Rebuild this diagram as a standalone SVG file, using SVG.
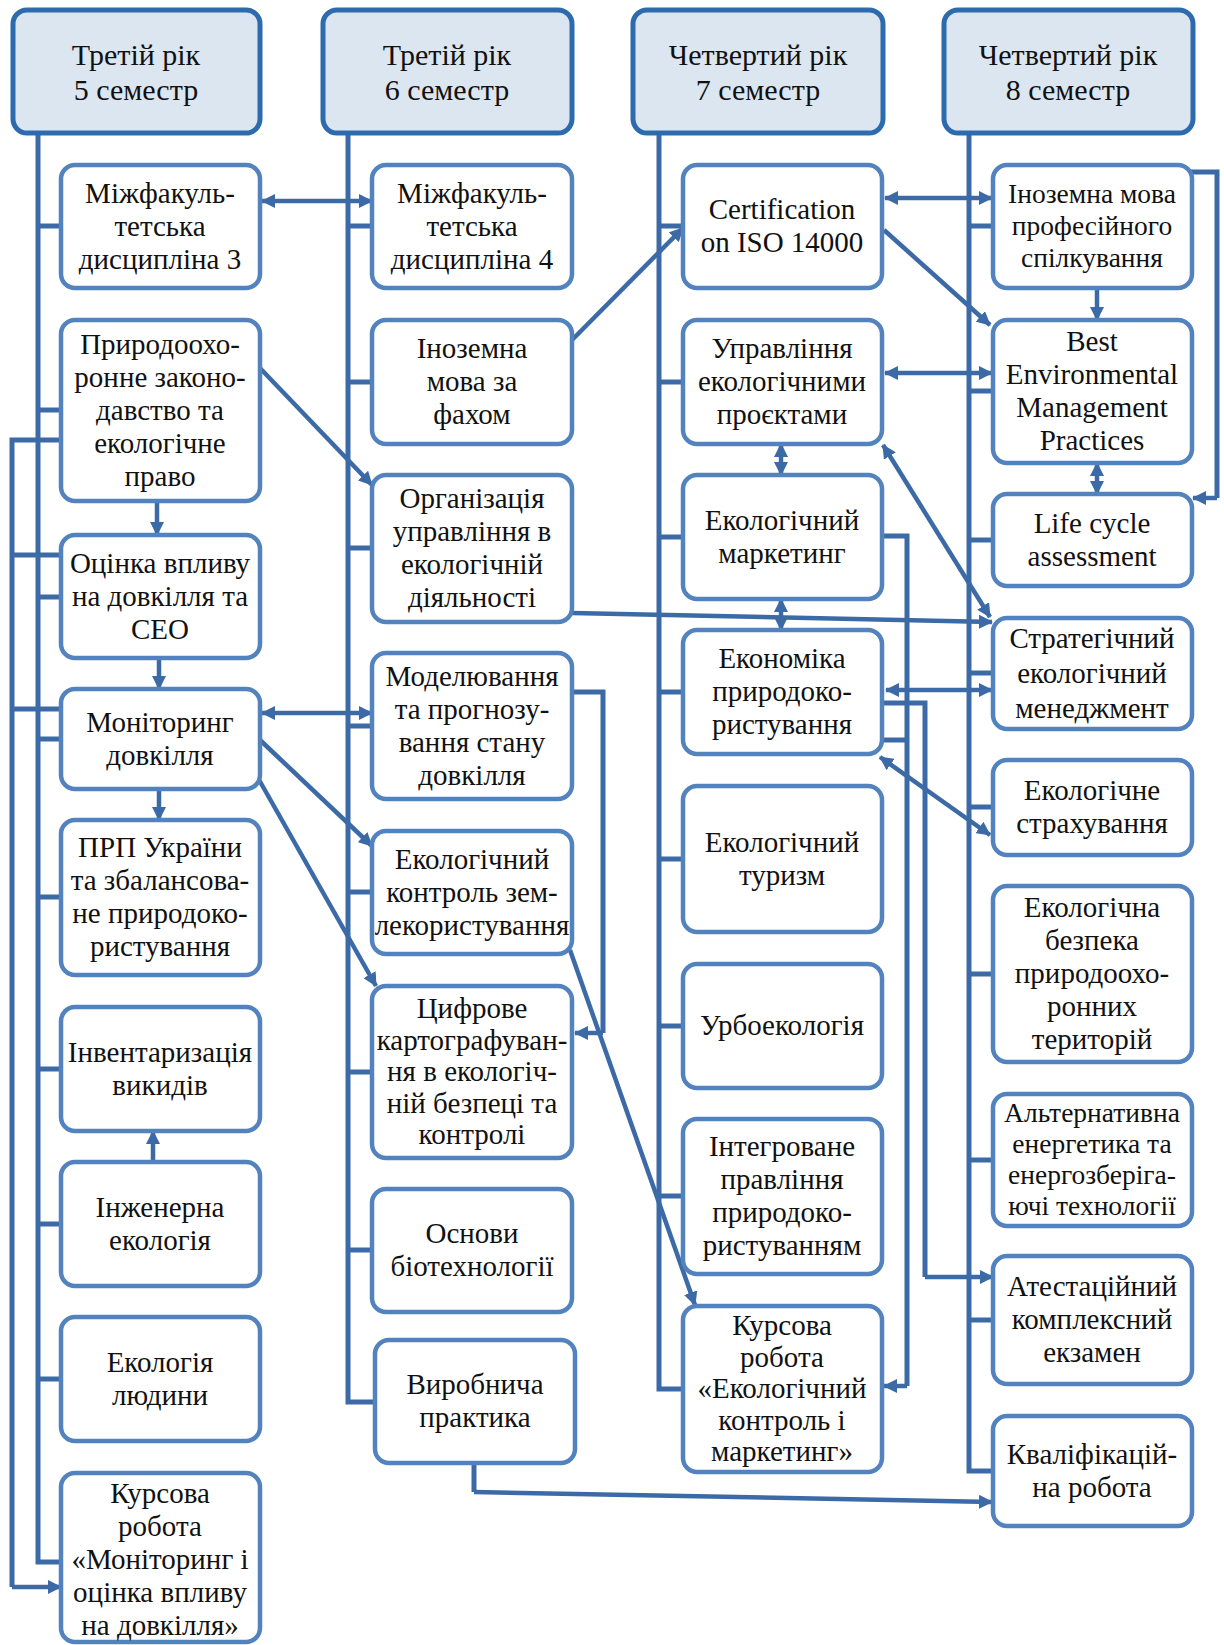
<svg xmlns="http://www.w3.org/2000/svg" width="1224" height="1645" viewBox="0 0 1224 1645" font-family="'Liberation Serif', 'Times New Roman', serif">
<style>
.hdr{fill:#dce6f1;stroke:#2d6bad;stroke-width:5}
.nd{fill:#ffffff;stroke:#5283be;stroke-width:4.5}
text{font-family:'Liberation Serif','Times New Roman',serif;fill:#111;text-anchor:middle}
.t{font-size:29px}
.th{font-size:30px}
.ts{font-size:27.5px}
.ln{fill:none;stroke:#3c6aa6;stroke-width:5}
.ar{fill:none;stroke:#3c6aa6;stroke-width:4.5;marker-end:url(#ah)}
.da{fill:none;stroke:#3c6aa6;stroke-width:4.5;marker-end:url(#ah);marker-start:url(#ah)}
</style>
<defs>
<marker id="ah" viewBox="0 0 14 14" refX="13" refY="7" markerWidth="14" markerHeight="14" markerUnits="userSpaceOnUse" orient="auto-start-reverse">
<path d="M0,0 L14,7 L0,14 z" fill="#3c6aa6"/>
</marker>
</defs>
<rect width="1224" height="1645" fill="#ffffff"/>

<g id="connectors">
<path class="ln" d="M38,133 V1562 H61 M38,226 H61 M38,410 H61 M38,597 H61 M38,739 H61 M38,897 H61 M38,1069 H61 M38,1224 H61 M38,1379 H61"/>
<path class="ln" d="M348,133 V1402 H375 M348,226 H372 M348,382 H372 M348,548 H372 M348,726 H372 M348,892 H372 M348,1072 H372 M348,1250 H372"/>
<path class="ln" d="M659,133 V1389 H683 M659,226 H683 M659,382 H683 M659,537 H683 M659,692 H683 M659,859 H683 M659,1026 H683 M659,1196 H683"/>
<path class="ln" d="M969,133 V1471 H993 M969,226 H993 M969,391 H993 M969,540 H993 M969,673 H993 M969,807 H993 M969,974 H993 M969,1160 H993 M969,1320 H993"/>
<path class="ln" d="M61,440 H12 V1587 M12,555 H61 M12,709 H61"/>
<path class="ar" d="M12,1587 H61"/>
<path class="da" d="M262,201 H372"/>
<path class="ar" d="M257,365 L372,485"/>
<path class="ar" d="M157,501 V535"/>
<path class="ar" d="M159,658 V689"/>
<path class="ar" d="M159,789 V820"/>
<path class="ar" d="M153,1162 V1131"/>
<path class="da" d="M262,713 H372"/>
<path class="ar" d="M260,740 L372,846"/>
<path class="ar" d="M258,778 L376,986"/>
<path class="ar" d="M572,340 L683,228"/>
<path class="ar" d="M572,613 L992,622"/>
<path class="ln" d="M572,692 H603 V1033"/>
<path class="ar" d="M603,1033 H575"/>
<path class="ar" d="M570,950 L695,1305"/>
<path class="ln" d="M474,1463 V1492"/>
<path class="ar" d="M474,1492 L992,1502"/>
<path class="da" d="M885,198 H992"/>
<path class="ar" d="M884,230 L990,325"/>
<path class="da" d="M885,373 H992"/>
<path class="da" d="M781,444 V475"/>
<path class="da" d="M781,599 V630"/>
<path class="da" d="M883,445 L990,617"/>
<path class="da" d="M886,690 H992"/>
<path class="da" d="M880,757 L990,835"/>
<path class="ln" d="M882,536 H907 V1386 M882,740 H907"/>
<path class="ar" d="M907,1386 H884"/>
<path class="ln" d="M882,703 H925 V1277"/>
<path class="ar" d="M925,1277 H993"/>
<path class="ar" d="M1097,288 V320"/>
<path class="da" d="M1097,463 V494"/>
<path class="ln" d="M1190,172 H1217 V498"/>
<path class="ar" d="M1217,498 H1193"/>
</g>

<g id="h1"><rect class="hdr" x="13" y="10" width="247" height="123" rx="14"/><text class="th" x="136" y="65">Третій рік</text><text class="th" x="136" y="100">5 семестр</text></g>
<g id="h2"><rect class="hdr" x="323" y="10" width="249" height="123" rx="14"/><text class="th" x="447" y="65">Третій рік</text><text class="th" x="447" y="100">6 семестр</text></g>
<g id="h3"><rect class="hdr" x="633" y="10" width="250" height="123" rx="14"/><text class="th" x="758" y="65">Четвертий рік</text><text class="th" x="758" y="100">7 семестр</text></g>
<g id="h4"><rect class="hdr" x="944" y="10" width="249" height="123" rx="14"/><text class="th" x="1068" y="65">Четвертий рік</text><text class="th" x="1068" y="100">8 семестр</text></g>

<g id="c1n1"><rect class="nd" x="61" y="165" width="199" height="123" rx="14"/><text class="t" x="160" y="203">Міжфакуль-</text><text class="t" x="160" y="236">тетська</text><text class="t" x="160" y="269">дисципліна 3</text></g>
<g id="c1n2"><rect class="nd" x="61" y="320" width="199" height="181" rx="14"/><text class="t" x="160" y="354">Природоохо-</text><text class="t" x="160" y="387">ронне законо-</text><text class="t" x="160" y="420">давство та</text><text class="t" x="160" y="453">екологічне</text><text class="t" x="160" y="486">право</text></g>
<g id="c1n3"><rect class="nd" x="61" y="535" width="199" height="123" rx="14"/><text class="t" x="160" y="573">Оцінка впливу</text><text class="t" x="160" y="606">на довкілля та</text><text class="t" x="160" y="639">СЕО</text></g>
<g id="c1n4"><rect class="nd" x="61" y="689" width="199" height="100" rx="14"/><text class="t" x="160" y="732">Моніторинг</text><text class="t" x="160" y="765">довкілля</text></g>
<g id="c1n5"><rect class="nd" x="61" y="820" width="199" height="155" rx="14"/><text class="t" x="160" y="857">ПРП України</text><text class="t" x="160" y="890">та збалансова-</text><text class="t" x="160" y="923">не природоко-</text><text class="t" x="160" y="956">ристування</text></g>
<g id="c1n6"><rect class="nd" x="61" y="1007" width="199" height="124" rx="14"/><text class="t" x="160" y="1062">Інвентаризація</text><text class="t" x="160" y="1095">викидів</text></g>
<g id="c1n7"><rect class="nd" x="61" y="1162" width="199" height="124" rx="14"/><text class="t" x="160" y="1217">Інженерна</text><text class="t" x="160" y="1250">екологія</text></g>
<g id="c1n8"><rect class="nd" x="61" y="1317" width="199" height="124" rx="14"/><text class="t" x="160" y="1372">Екологія</text><text class="t" x="160" y="1405">людини</text></g>
<g id="c1n9"><rect class="nd" x="61" y="1473" width="199" height="169" rx="14"/><text class="t" x="160" y="1503">Курсова</text><text class="t" x="160" y="1536">робота</text><text class="t" x="160" y="1569">«Моніторинг і</text><text class="t" x="160" y="1602">оцінка впливу</text><text class="t" x="160" y="1635">на довкілля»</text></g>

<g id="c2n1"><rect class="nd" x="372" y="165" width="200" height="123" rx="14"/><text class="t" x="472" y="203">Міжфакуль-</text><text class="t" x="472" y="236">тетська</text><text class="t" x="472" y="269">дисципліна 4</text></g>
<g id="c2n2"><rect class="nd" x="372" y="320" width="200" height="124" rx="14"/><text class="t" x="472" y="358">Іноземна</text><text class="t" x="472" y="391">мова за</text><text class="t" x="472" y="424">фахом</text></g>
<g id="c2n3"><rect class="nd" x="372" y="475" width="200" height="147" rx="14"/><text class="t" x="472" y="508">Організація</text><text class="t" x="472" y="541">управління в</text><text class="t" x="472" y="574">екологічній</text><text class="t" x="472" y="607">діяльності</text></g>
<g id="c2n4"><rect class="nd" x="372" y="653" width="200" height="146" rx="14"/><text class="t" x="472" y="686">Моделювання</text><text class="t" x="472" y="719">та прогнозу-</text><text class="t" x="472" y="752">вання стану</text><text class="t" x="472" y="785">довкілля</text></g>
<g id="c2n5"><rect class="nd" x="372" y="831" width="200" height="123" rx="14"/><text class="t" x="472" y="869">Екологічний</text><text class="t" x="472" y="902">контроль зем-</text><text class="t" x="472" y="935">лекористування</text></g>
<g id="c2n6"><rect class="nd" x="372" y="986" width="200" height="172" rx="14"/><text class="t" x="472" y="1018">Цифрове</text><text class="t" x="472" y="1050">картографуван-</text><text class="t" x="472" y="1081">ня в екологіч-</text><text class="t" x="472" y="1113">ній безпеці та</text><text class="t" x="472" y="1144">контролі</text></g>
<g id="c2n7"><rect class="nd" x="372" y="1189" width="200" height="123" rx="14"/><text class="t" x="472" y="1243">Основи</text><text class="t" x="472" y="1276">біотехнології</text></g>
<g id="c2n8"><rect class="nd" x="375" y="1340" width="200" height="123" rx="14"/><text class="t" x="475" y="1394">Виробнича</text><text class="t" x="475" y="1427">практика</text></g>

<g id="c3n1"><rect class="nd" x="683" y="165" width="199" height="123" rx="14"/><text class="t" x="782" y="219">Certification</text><text class="t" x="782" y="252">on ISO 14000</text></g>
<g id="c3n2"><rect class="nd" x="683" y="320" width="199" height="124" rx="14"/><text class="t" x="782" y="358">Управління</text><text class="t" x="782" y="391">екологічними</text><text class="t" x="782" y="424">проєктами</text></g>
<g id="c3n3"><rect class="nd" x="683" y="475" width="199" height="124" rx="14"/><text class="t" x="782" y="530">Екологічний</text><text class="t" x="782" y="563">маркетинг</text></g>
<g id="c3n4"><rect class="nd" x="683" y="630" width="199" height="124" rx="14"/><text class="t" x="782" y="668">Економіка</text><text class="t" x="782" y="701">природоко-</text><text class="t" x="782" y="734">ристування</text></g>
<g id="c3n5"><rect class="nd" x="683" y="786" width="199" height="146" rx="14"/><text class="t" x="782" y="852">Екологічний</text><text class="t" x="782" y="885">туризм</text></g>
<g id="c3n6"><rect class="nd" x="683" y="964" width="199" height="124" rx="14"/><text class="t" x="782" y="1035">Урбоекологія</text></g>
<g id="c3n7"><rect class="nd" x="683" y="1119" width="199" height="155" rx="14"/><text class="t" x="782" y="1156">Інтегроване</text><text class="t" x="782" y="1189">правління</text><text class="t" x="782" y="1222">природоко-</text><text class="t" x="782" y="1255">ристуванням</text></g>
<g id="c3n8"><rect class="nd" x="683" y="1306" width="199" height="166" rx="14"/><text class="t" x="782" y="1335">Курсова</text><text class="t" x="782" y="1367">робота</text><text class="t" x="782" y="1398">«Екологічний</text><text class="t" x="782" y="1430">контроль і</text><text class="t" x="782" y="1461">маркетинг»</text></g>

<g id="c4n1"><rect class="nd" x="993" y="165" width="199" height="123" rx="14"/><text class="t ts" x="1092" y="203">Іноземна мова</text><text class="t ts" x="1092" y="235">професійного</text><text class="t ts" x="1092" y="267">спілкування</text></g>
<g id="c4n2"><rect class="nd" x="993" y="320" width="199" height="143" rx="14"/><text class="t" x="1092" y="351">Best</text><text class="t" x="1092" y="384">Environmental</text><text class="t" x="1092" y="417">Management</text><text class="t" x="1092" y="450">Practices</text></g>
<g id="c4n3"><rect class="nd" x="993" y="494" width="199" height="92" rx="14"/><text class="t" x="1092" y="533">Life cycle</text><text class="t" x="1092" y="566">assessment</text></g>
<g id="c4n4"><rect class="nd" x="993" y="618" width="199" height="111" rx="14"/><text class="t" x="1092" y="648">Стратегічний</text><text class="t" x="1092" y="683">екологічний</text><text class="t" x="1092" y="718">менеджмент</text></g>
<g id="c4n5"><rect class="nd" x="993" y="760" width="199" height="95" rx="14"/><text class="t" x="1092" y="800">Екологічне</text><text class="t" x="1092" y="833">страхування</text></g>
<g id="c4n6"><rect class="nd" x="993" y="886" width="199" height="176" rx="14"/><text class="t" x="1092" y="917">Екологічна</text><text class="t" x="1092" y="950">безпека</text><text class="t" x="1092" y="983">природоохо-</text><text class="t" x="1092" y="1016">ронних</text><text class="t" x="1092" y="1049">територій</text></g>
<g id="c4n7"><rect class="nd" x="993" y="1094" width="199" height="132" rx="14"/><text class="t ts" x="1092" y="1122">Альтернативна</text><text class="t ts" x="1092" y="1153">енергетика та</text><text class="t ts" x="1092" y="1184">енергозберіга-</text><text class="t ts" x="1092" y="1215">ючі технології</text></g>
<g id="c4n8"><rect class="nd" x="993" y="1256" width="199" height="128" rx="14"/><text class="t" x="1092" y="1296">Атестаційний</text><text class="t" x="1092" y="1329">комплексний</text><text class="t" x="1092" y="1362">екзамен</text></g>
<g id="c4n9"><rect class="nd" x="993" y="1416" width="199" height="110" rx="14"/><text class="t" x="1092" y="1464">Кваліфікацій-</text><text class="t" x="1092" y="1497">на робота</text></g>
</svg>
